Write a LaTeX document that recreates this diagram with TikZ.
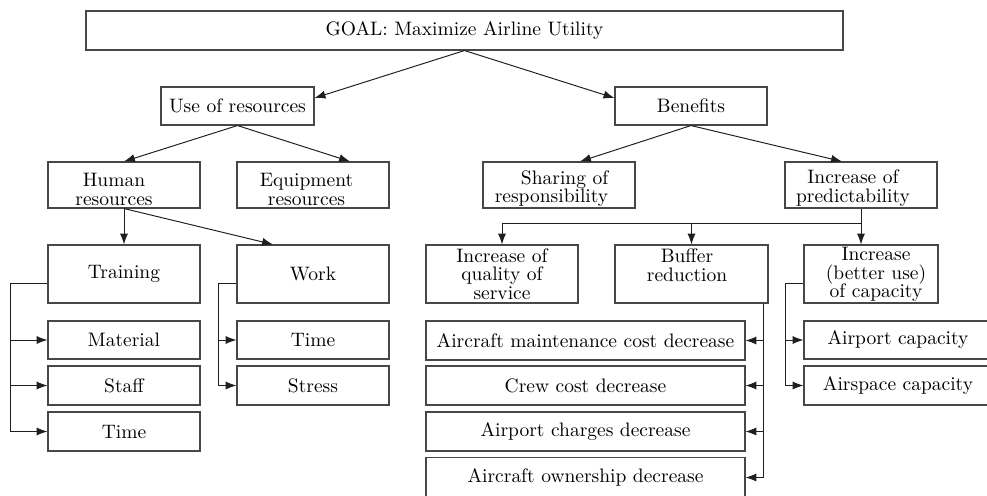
\documentclass[tikz,border=0pt]{standalone}
\usepackage{fontspec}
\usetikzlibrary{calc,arrows.meta}
\def\U{0.513}
\begin{document}
\begin{tikzpicture}[x=\U pt, y=-\U pt,
  bx/.style 2 args={draw=black!72, line width=0.55pt, minimum width=#1*\U pt, minimum height=#2*\U pt, inner sep=0pt, align=center, font=\fontsize{10}{9.6}\selectfont},
  txt/.style={align=center, inner sep=0pt, font=\fontsize{10}{9.6}\selectfont},
  arr/.style={-{Latex[length=5.6pt,width=4.2pt]}, line width=0.5pt, draw=black!88},
  ln/.style={line width=0.5pt, draw=black!88}]
\useasboundingbox (0,0) rectangle (987,495);
% level 0/1
\node[bx={757}{39}] (goal) at (464.5,30.5) {GOAL: Maximize Airline Utility};
\node[bx={153}{38}] (use) at (237.5,106) {Use of resources};
\node[bx={152}{38}] (ben) at (691,106) {Benefits};
% level 2
\node[bx={152}{46}, label={[txt,xshift=-10*\U pt,yshift=-4.5*\U pt]center:{Human\\resources}}] (hr) at (124,185) {};
\node[bx={152}{46}, label={[txt,xshift=-6.5*\U pt,yshift=-4.5*\U pt]center:{Equipment\\resources}}] (eq) at (313,185) {};
\node[bx={152}{46}, label={[txt,align=right,xshift=-7.5*\U pt,yshift=-3.5*\U pt]center:{Sharing of\\responsibility}}] (sh) at (559,185) {};
\node[bx={152}{46}, label={[txt,xshift=-8*\U pt,yshift=-3*\U pt]center:{Increase of\\predictability}}] (pr) at (861,185) {};
% level 3
\node[bx={152}{58}] (tr) at (124,274) {Training};
\node[bx={152}{58}] (wk) at (313,274) {Work};
\node[bx={152}{58}] (qual) at (502,274) {Increase of\\quality of\\service};
\node[bx={153}{58}, label={[txt,xshift=-4.5*\U pt,yshift=8.5*\U pt]center:{Buffer\\reduction}}] (buf) at (691.5,274) {};
\node[bx={134}{58}, label={[txt,xshift=5*\U pt,yshift=-0.5*\U pt]center:{Increase\\(better use)\\of capacity}}] (cap) at (871,274) {};
% leaves
\node[bx={152}{38}] (mat) at (124,340) {Material};
\node[bx={152}{39}] (stf) at (124,385.5) {Staff};
\node[bx={152}{39}] (tml) at (124,431.5) {Time};
\node[bx={152}{38}] (tmw) at (313,340) {Time};
\node[bx={152}{39}] (strs) at (313,385.5) {Stress};
\node[bx={319}{39}] (am) at (585.5,340.5) {Aircraft maintenance cost decrease};
\node[bx={319}{39}] (cc) at (585.5,385.5) {Crew cost decrease};
\node[bx={319}{39}] (ac) at (585.5,431.5) {Airport charges decrease};
\node[bx={319}{40}] (ao) at (585.5,477.5) {Aircraft ownership decrease};
\node[bx={188}{38}] (apc) at (898,340) {Airport capacity};
\node[bx={188}{39}] (asc) at (898,385.5) {Airspace capacity};
% tree connectors
\draw[arr] (goal.south) -- ($(use.east)+(0,-8)$);
\draw[arr] (goal.south) -- ($(ben.west)+(0,-8)$);
\draw[arr] (use.south) -- (hr.north);
\draw[arr] (use.south) -- ($(eq.north)+(37,0)$);
\draw[arr] (ben.south) -- ($(sh.north)+(21,0)$);
\draw[arr] (ben.south) -- ($(pr.north)+(-19,0)$);
\draw[arr] (hr.south) -- (tr.north);
\draw[arr] (hr.south) -- ($(wk.north)+(-40,0)$);
% training bus
\coordinate (tbus) at ($(tr.west)+(-37,9)$);
\draw[arr] ($(tr.west)+(0,9)$) -- (tbus) |- (tml.west);
\draw[arr] (tbus |- mat.west) -- (mat.west);
\draw[arr] (tbus |- stf.west) -- (stf.west);
% work bus
\coordinate (wbus) at ($(wk.west)+(-18,9)$);
\draw[arr] ($(wk.west)+(0,9)$) -- (wbus) |- (strs.west);
\draw[arr] (wbus |- tmw.west) -- (tmw.west);
% predictability bus
\coordinate (pbus) at ($(pr.south)+(0,15)$);
\draw[arr] (pr.south) -- (pr.south |- cap.north);
\draw[arr] (pbus) -| (qual.north);
\draw[arr] (buf.north |- pbus) -- (buf.north);
% buffer bus
\coordinate (bbus) at ($(buf.south east)+(-5,0)$);
\draw[arr] (bbus) |- (ao.east);
\draw[arr] (bbus |- am.east) -- (am.east);
\draw[arr] (bbus |- cc.east) -- (cc.east);
\draw[arr] (bbus |- ac.east) -- (ac.east);
% capacity bus
\coordinate (cbus) at ($(cap.west)+(-18,9)$);
\draw[arr] ($(cap.west)+(0,9)$) -- (cbus) |- (asc.west);
\draw[arr] (cbus |- apc.west) -- (apc.west);
\end{tikzpicture}
\end{document}
